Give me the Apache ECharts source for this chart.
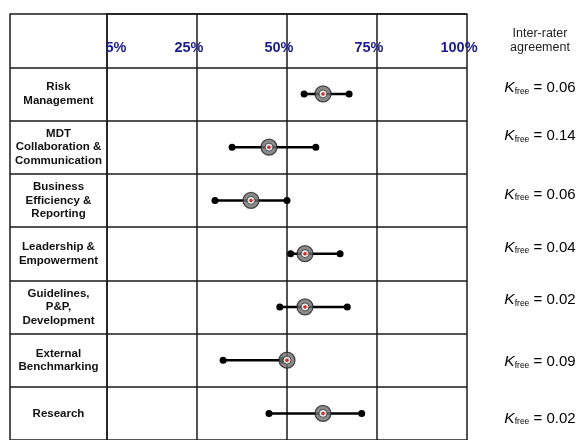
<!DOCTYPE html>
<html>
<head>
<meta charset="utf-8">
<script src="https://cdn.jsdelivr.net/npm/echarts@6/dist/echarts.min.js"></script>
<style>
html,body{margin:0;padding:0;background:#fff;}
#chart{width:579px;height:440px;}
</style>
</head>
<body>
<div id="chart"></div>
<script>
// ---- data ----
const categories = [
  'Risk\nManagement',
  'MDT\nCollaboration &\nCommunication',
  'Business\nEfficiency &\nReporting',
  'Leadership &\nEmpowerment',
  'Guidelines,\nP&P,\nDevelopment',
  'External\nBenchmarking',
  'Research'
];
// positions on the percentile scale (0 = 5%, 1 = 25%, 2 = 50%, 3 = 75%, 4 = 100%)
const lowVals    = [2.19, 1.39, 1.20, 2.04, 1.92, 1.29, 1.80];
const medianVals = [2.40, 1.80, 1.60, 2.20, 2.20, 2.00, 2.40];
const highVals   = [2.69, 2.32, 2.00, 2.59, 2.67, 1.96, 2.83];
const kappaVals  = ['0.06', '0.14', '0.06', '0.04', '0.02', '0.09', '0.02'];
const tickLabels = ['5%', '25%', '50%', '75%', '100%'];
const headerRight = 'Inter-rater\nagreement';

// ---- layout nudges for kappa labels (px, negative = up) ----
const kappaNudge = [-6, -11, -6, -6, -7, 2, 5];

const FONT = "Arial, 'Liberation Sans', sans-serif";
const LINE = '#1a1a1a';
const yCats = [''].concat(categories);

const kappaRich = {
  k: {fontFamily: FONT, fontStyle: 'italic', fontSize: 15.5, color: '#000'},
  s: {fontFamily: FONT, fontSize: 8.5, color: '#000', verticalAlign: 'bottom'},
  t: {fontFamily: FONT, fontSize: 15, color: '#000'},
  h: {fontFamily: FONT, fontSize: 12.5, lineHeight: 14, color: '#222', align: 'center'}
};
kappaNudge.forEach((n, i) => {
  kappaRich['p' + i] = {fontSize: 1, lineHeight: Math.abs(n) * 2};
});

const lineSeries = categories.map((c, i) => ({
  type: 'line',
  yAxisIndex: 0,
  data: [[lowVals[i], i + 1], [highVals[i], i + 1]],
  symbol: 'circle',
  symbolSize: 7,
  lineStyle: {color: '#000', width: 2.5},
  itemStyle: {color: '#000'},
  z: 2,
  silent: true
}));

const medPts = medianVals.map((m, i) => [m, i + 1]);

const chart = echarts.init(document.getElementById('chart'), null, {renderer: 'canvas'});
chart.setOption({
  animation: false,
  backgroundColor: '#fff',
  grid: {left: 107, top: 14, width: 360, height: 429, containLabel: false},
  xAxis: {
    type: 'value', min: 0, max: 4, interval: 1, position: 'top',
    axisLine: {show: true, lineStyle: {color: LINE, width: 1.5}},
    axisTick: {show: false},
    splitLine: {show: true, lineStyle: {color: LINE, width: 1.5}},
    axisLabel: {
      inside: true, margin: 26, showMinLabel: true, showMaxLabel: true,
      formatter: v => {
        const i = Math.round(v);
        return (i === 0 ? '{first|' : '{rest|') + tickLabels[i] + '}';
      },
      rich: {
        first: {fontFamily: FONT, fontWeight: 'bold', fontSize: 14.5, color: '#1c1c8c', padding: [0, 0, 0, 18]},
        rest: {fontFamily: FONT, fontWeight: 'bold', fontSize: 14.5, color: '#1c1c8c', padding: [0, 16, 0, 0]}
      }
    }
  },
  yAxis: [
    {
      type: 'category', data: yCats, inverse: true, position: 'left',
      axisLine: {show: true, lineStyle: {color: LINE, width: 1.5}},
      axisTick: {show: true, length: 97, interval: 0, lineStyle: {color: LINE, width: 1.5}},
      splitLine: {show: true, interval: 0, lineStyle: {color: LINE, width: 1.5}},
      axisLabel: {
        interval: 0, align: 'center', margin: 48.5,
        fontFamily: FONT, fontWeight: 'bold', fontSize: 11.5, lineHeight: 13.5, color: '#111'
      }
    },
    {
      type: 'category', data: yCats, inverse: true, position: 'left', offset: 97,
      axisLine: {show: true, lineStyle: {color: LINE, width: 1.5}},
      axisTick: {show: false}, axisLabel: {show: false}, splitLine: {show: false}
    },
    {
      type: 'category', data: yCats, inverse: true, position: 'right',
      axisLine: {show: false}, axisTick: {show: false}, splitLine: {show: false},
      axisLabel: {
        interval: 0, align: 'center', margin: 73,
        formatter: (v, idx) => {
          if (idx === 0) return '{h|' + headerRight + '}';
          const i = idx - 1;
          const main = '{k|K}{s|free}{t| = ' + kappaVals[i] + '}';
          const pad = '{p' + i + '| }';
          return kappaNudge[i] < 0 ? main + '\n' + pad : pad + '\n' + main;
        },
        rich: kappaRich
      }
    }
  ],
  series: lineSeries.concat([
    {
      type: 'scatter', data: medPts, symbol: 'circle', symbolSize: 16, z: 3, silent: true,
      itemStyle: {color: '#6e6e6e', borderColor: '#222', borderWidth: 1.2}
    },
    {
      type: 'scatter', data: medPts, symbol: 'circle', symbolSize: 8, z: 4, silent: true,
      itemStyle: {color: '#fff', borderColor: '#333', borderWidth: 1}
    },
    {
      type: 'scatter', data: medPts, symbol: 'circle', symbolSize: 3.5, z: 5, silent: true,
      itemStyle: {color: '#c00000'}
    }
  ])
});
</script>
</body>
</html>
